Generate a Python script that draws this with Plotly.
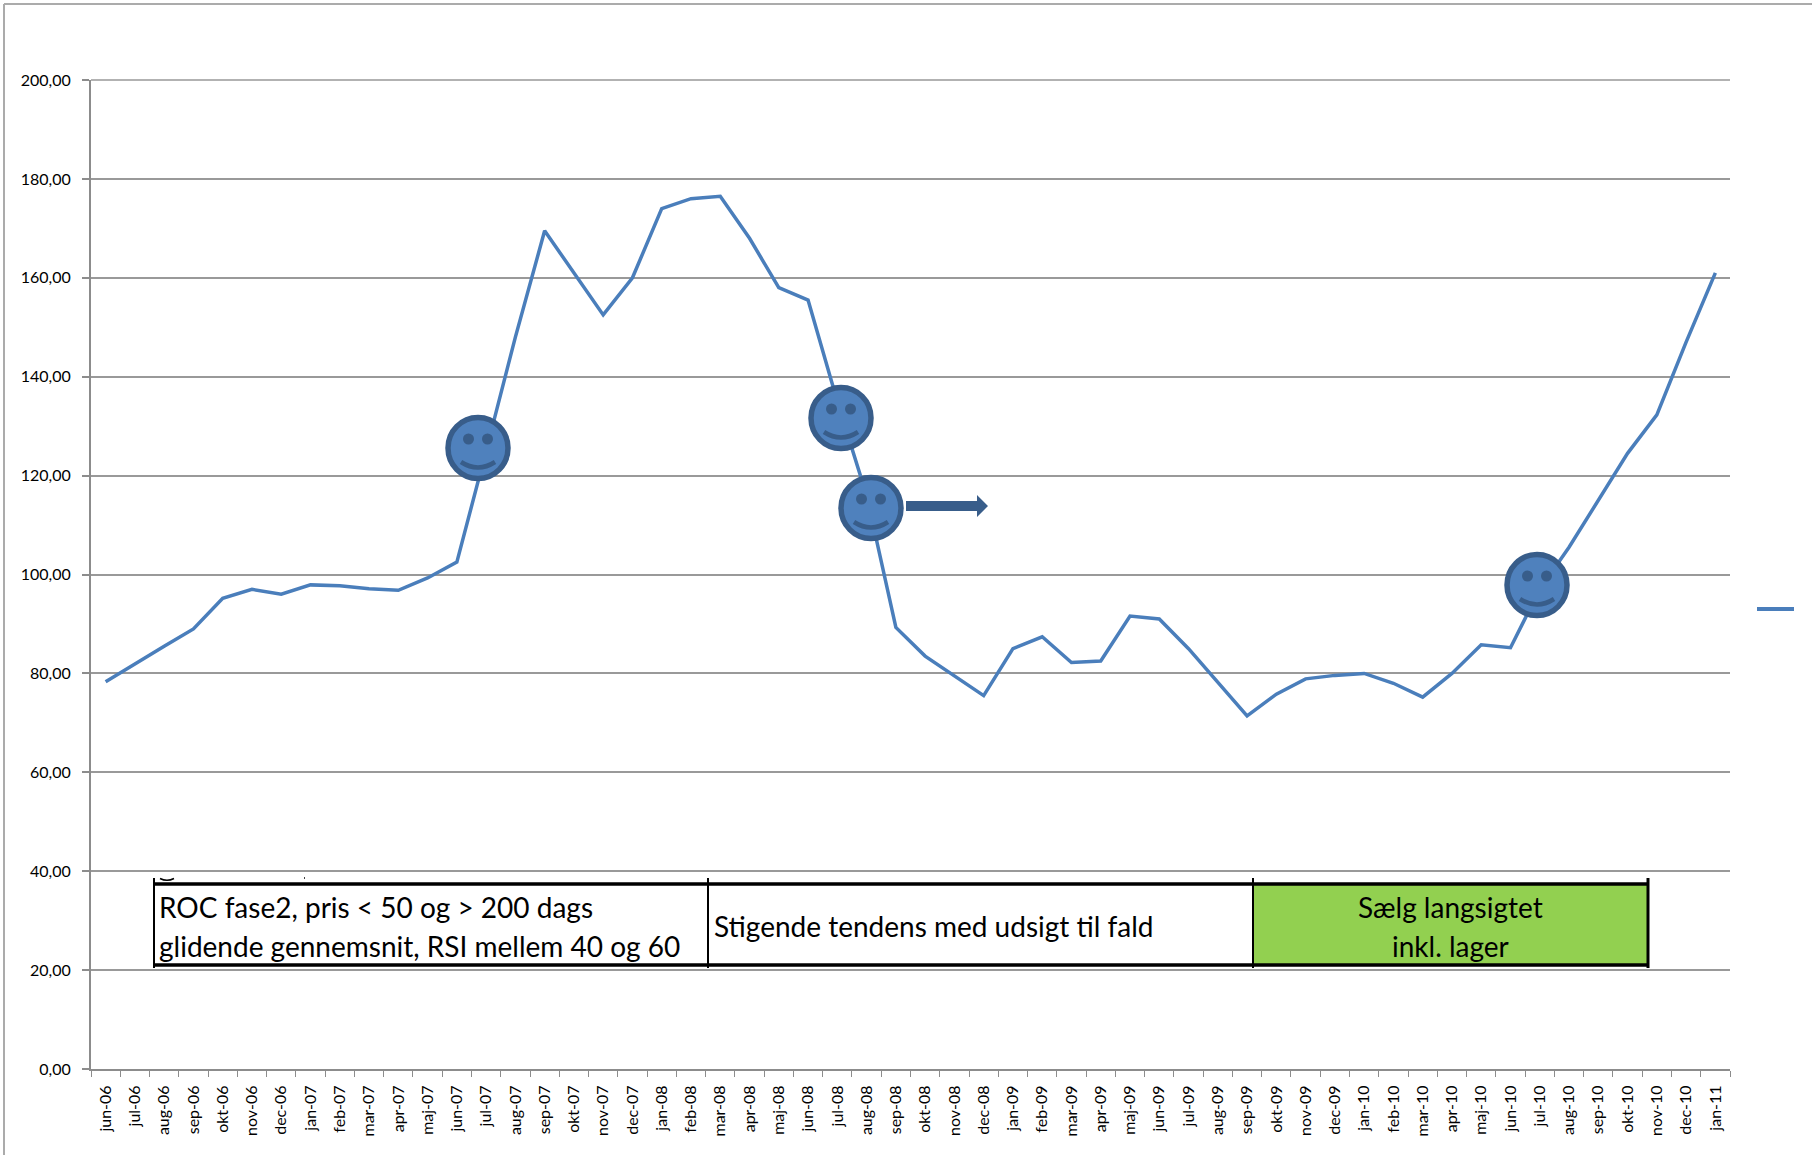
import plotly.graph_objects as go

W, H = 1812, 1155
L, R, T, B = 91, 1730, 80, 1069

months = ["jun-06","jul-06","aug-06","sep-06","okt-06","nov-06","dec-06",
          "jan-07","feb-07","mar-07","apr-07","maj-07","jun-07","jul-07","aug-07","sep-07","okt-07","nov-07","dec-07",
          "jan-08","feb-08","mar-08","apr-08","maj-08","jun-08","jul-08","aug-08","sep-08","okt-08","nov-08","dec-08",
          "jan-09","feb-09","mar-09","apr-09","maj-09","jun-09","jul-09","aug-09","sep-09","okt-09","nov-09","dec-09",
          "jan-10","feb-10","mar-10","apr-10","maj-10","jun-10","jul-10","aug-10","sep-10","okt-10","nov-10","dec-10",
          "jan-11"]
prices = [78.3,82,85.5,89,95.2,97,96,
          97.9,97.7,97.1,96.8,99.3,102.5,125,148,169.5,161,152.5,160,
          174,176,176.5,168,158,155.5,135,116,89.3,83.5,79.5,75.5,
          85,87.4,82.2,82.5,91.6,91,85,78.3,71.4,75.8,78.9,79.6,
          80,78,75.2,80,85.8,85.2,97,105.5,115,124.5,132.3,147,
          161]
y_ticks = [0,20,40,60,80,100,120,140,160,180,200]
y_labels = ["0,00","20,00","40,00","60,00","80,00","100,00","120,00","140,00","160,00","180,00","200,00"]

box1_lines = ["ROC fase2, pris &lt; 50 og &gt; 200 dags", "glidende gennemsnit, RSI mellem 40 og 60"]
box2_text = "Stigende tendens med udsigt til fald"
box3_lines = ["Sælg langsigtet", "inkl. lager"]

BLUE, DARK = "#4A7EBB", "#385D8A"
FACE = "#4F81BD"
GRID = "#999999"
AXIS = "#8C8C8C"
FONT = "Lato"

def px(x): return (x - L) / (R - L)
def py(y): return (B - y) / (B - T)

shapes = []
def add(kind, **kw):
    kw.update(type=kind, xref="paper", yref="paper")
    shapes.append(kw)

def line(x0, y0, x1, y1, color="black", width=3):
    add("line", x0=px(x0), y0=py(y0), x1=px(x1), y1=py(y1), line=dict(color=color, width=width))

def ell(cx, cy, rx, ry, fill, stroke=None, width=0):
    add("circle", x0=px(cx-rx), x1=px(cx+rx), y0=py(cy-ry), y1=py(cy+ry),
        fillcolor=fill, line=dict(color=stroke or fill, width=width))

def path(points, fill=None, color=DARK, width=0, quad=False):
    if quad:
        (a, b, c) = points
        d = f"M {px(a[0])} {py(a[1])} Q {px(b[0])} {py(b[1])} {px(c[0])} {py(c[1])}"
    else:
        d = "M " + " L ".join(f"{px(x)} {py(y)}" for x, y in points) + " Z"
    add("path", path=d, fillcolor=fill or "rgba(0,0,0,0)", line=dict(color=color, width=width))

# outer frame (top and left only)
line(4, 4, W, 4, "#ABABAB", 2)
line(4, 4, 4, H, "#ABABAB", 2)

# top gridline, which plotly drops at the range boundary
line(L, T, R, T, GRID, 1.5)

# phase boxes
BX = [154, 708, 1253, 1648]
BT, BB = 884, 965
add("rect", x0=px(BX[2]), x1=px(BX[3]), y0=py(BB), y1=py(BT), fillcolor="#92D050", line=dict(width=0))
add("rect", x0=px(BX[0]), x1=px(BX[2]), y0=py(BB), y1=py(BT), fillcolor="white", line=dict(width=0))
line(BX[0], BT, BX[3], BT, width=3.5)
line(BX[0], BB, BX[3], BB, width=3.5)
for i, x in enumerate(BX):
    line(x, 878, x, 968, width=2 if i < 3 else 3)

# clipped text remnants above the first box
path([(160, 878.5), (167, 882), (174, 878.5)], color="black", width=1.5, quad=True)
line(304, 878, 305, 878, width=1.5)

# smileys
for cx, cy in [(478, 448), (841, 418), (871, 508), (1537, 585)]:
    ell(cx, cy, 30, 30.5, FACE, DARK, 5.5)
    ell(cx-9.5, cy-9, 5.5, 5.5, DARK)
    ell(cx+9.5, cy-9, 5.5, 5.5, DARK)
    path([(cx-17, cy+14), (cx, cy+25), (cx+17, cy+14)], width=4.5, quad=True)

# arrow
path([(906, 501), (977, 501), (977, 495), (988, 506), (977, 517), (977, 511), (906, 511)], fill=DARK)

# legend key with no text
line(1757, 609, 1794, 609, BLUE, 4)

fig = go.Figure(go.Scatter(x=months, y=prices, mode="lines",
                           line=dict(color=BLUE, width=3.5, shape="linear"), showlegend=False))

mid3 = (BX[2] + BX[3]) / 2
annos = [
    dict(x=px(158), y=py(907), text=box1_lines[0], xanchor="left"),
    dict(x=px(158), y=py(946), text=box1_lines[1], xanchor="left"),
    dict(x=px(713), y=py(926), text=box2_text, xanchor="left"),
    dict(x=px(mid3), y=py(907), text=box3_lines[0], xanchor="center"),
    dict(x=px(mid3), y=py(946), text=box3_lines[1], xanchor="center"),
]
for a in annos:
    a.update(xref="paper", yref="paper", yanchor="middle", showarrow=False, borderpad=0,
             font=dict(family=FONT, size=28, color="black"))

fig.update_layout(
    width=W, height=H, paper_bgcolor="white", plot_bgcolor="white",
    margin=dict(l=L, r=W-R, t=T, b=H-B, pad=0),
    font=dict(family=FONT, color="black"),
    shapes=shapes, annotations=annos, showlegend=False,
    xaxis=dict(type="category", categoryorder="array", categoryarray=months, range=[-0.5, len(months)-0.5],
               tickmode="array", tickvals=months, ticktext=months, tickson="boundaries",
               tickangle=-90, ticks="outside", ticklen=6, tickwidth=1, tickcolor=AXIS,
               showline=True, linecolor=AXIS, linewidth=2, showgrid=False, zeroline=False,
               ticklabelstandoff=8,
               tickfont=dict(family=FONT, size=16, color="black")),
    yaxis=dict(range=[0, 200], tickmode="array", tickvals=y_ticks, ticktext=y_labels,
               ticks="outside", ticklen=7, tickwidth=1.5, tickcolor=AXIS,
               showline=True, linecolor=AXIS, linewidth=2, showgrid=True, gridcolor=GRID, gridwidth=1.5,
               zeroline=False, ticklabelstandoff=8,
               tickfont=dict(family=FONT, size=16, color="black")),
)
fig.write_html("out.html", config=dict(displayModeBar=False), post_script="document.body.style.margin='0';")
